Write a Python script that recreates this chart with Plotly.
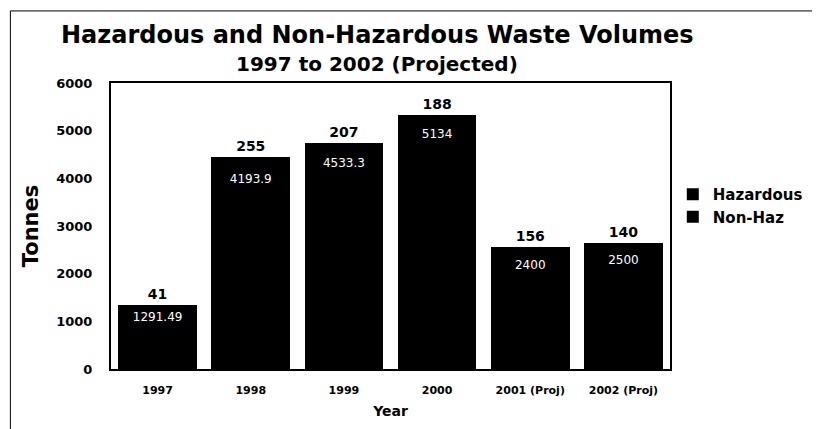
import plotly.graph_objects as go

# data
years = ["1997", "1998", "1999", "2000", "2001 (Proj)", "2002 (Proj)"]
non_haz = [1291.49, 4193.9, 4533.3, 5134, 2400, 2500]
hazardous = [41, 255, 207, 188, 156, 140]

font_family = "DejaVu Sans, Liberation Sans, Arial, sans-serif"

fig = go.Figure()

fig.add_trace(go.Bar(
    x=years, y=non_haz, name="Non-Haz",
    marker=dict(color="black", line=dict(width=0)),
    text=[f"{v:g}" for v in non_haz],
    textposition="inside", insidetextanchor="end",
    textfont=dict(color="white", size=12, family=font_family),
    constraintext="none",
))
fig.add_trace(go.Bar(
    x=years, y=hazardous, name="Hazardous",
    marker=dict(color="black", line=dict(width=0)),
    text=[str(v) for v in hazardous],
    textposition="outside",
    textfont=dict(color="black", size=14, family=font_family, weight="bold"),
    constraintext="none", cliponaxis=False,
))

# titles as annotations so they sit where the reference has them
fig.add_annotation(text="<b>Hazardous and Non-Hazardous Waste Volumes</b>",
                   xref="paper", yref="paper", x=0.476, y=1.168,
                   xanchor="center", yanchor="middle",
                   showarrow=False, font=dict(size=24))
fig.add_annotation(text="<b>1997 to 2002 (Projected)</b>",
                   xref="paper", yref="paper", x=0.476, y=1.065,
                   xanchor="center", yanchor="middle",
                   showarrow=False, font=dict(size=20))

# the page body adds an 8px margin, so the figure is sized to fit the window
fig.update_layout(
    width=812, height=421,
    barmode="stack", bargap=0.155,
    plot_bgcolor="white", paper_bgcolor="white",
    margin=dict(l=103, r=148, t=75, b=60),
    font=dict(family=font_family, color="black"),
    xaxis=dict(
        title=dict(text="<b>Year</b>", font=dict(size=14), standoff=10),
        tickfont=dict(size=11, weight="bold"),
        ticklabelstandoff=10,
        showline=True, linecolor="black", linewidth=2, mirror=True,
        ticks="", automargin=False,
    ),
    yaxis=dict(
        title=dict(text="<b>Tonnes</b>", font=dict(size=21), standoff=12),
        range=[0, 6000], dtick=1000,
        tickfont=dict(size=13, weight="bold"),
        ticklabelstandoff=14,
        showgrid=False, zeroline=False,
        showline=True, linecolor="black", linewidth=2, mirror=True,
        automargin=False,
    ),
    legend=dict(
        x=1.005, y=0.572, xanchor="left", yanchor="middle",
        font=dict(size=15, weight="bold"), itemsizing="constant",
    ),
    # thin frame round the whole chart, open at right and bottom as in the scan
    shapes=[dict(
        type="rect", xref="paper", yref="paper",
        x0=-0.18, x1=1.28, y0=-0.25, y1=1.252,
        line=dict(color="black", width=1), layer="below",
    )],
)

fig.write_html("out.html")
